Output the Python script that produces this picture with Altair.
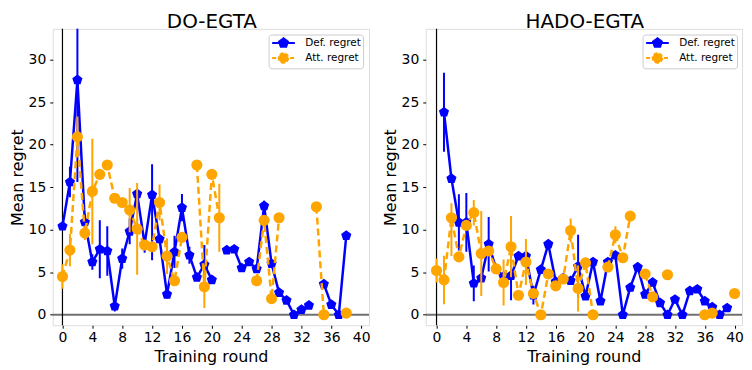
import altair as alt
import pandas as pd

BLUE = "#0000ff"
ORANGE = "#ffa500"
SERIES = ["Def. regret", "Att. regret"]
X_TICKS = list(range(0, 41, 4))
Y_TICKS = [0, 5, 10, 15, 20, 25, 30]

# ---------------- DO-EGTA (training rounds 0..38) ----------------
do_def = [10.4, 15.6, 27.6, 10.9, 6.2, 7.7, 7.5, 1.0, 6.6, 9.8,
          14.2, 8.3, 14.1, 8.9, 2.4, 7.4, 12.6, 7.0, 4.4, 5.9,
          4.1, None, 7.6, 7.7, 5.5, 6.2, 5.4, 12.8, 6.0, 2.6,
          1.7, 0.0, 0.6, 1.1, None, 3.6, 1.2, 0.0, 9.3]
do_def_err = [0, 1.8, 12, 1.0, 0.9, 3.4, 2.9, 0.6, 1.2, 1.5,
              0.5, 1.0, 3.6, 0.5, 0.5, 1.9, 1.6, 1.0, 0.3, 2.3,
              0.3, None, 0, 0, 0, 0, 0, 0.6, 0.3, 0,
              0, 0, 0, 0, None, 0.4, 0, 0, 0]
do_def_asym = {12: (7.7, 3.6)}
do_att = [4.5, 7.6, 20.9, 9.6, 14.5, 16.5, 17.6, 13.7, 13.2, 12.3,
          10.1, 8.2, 8.0, 13.2, 6.9, 4.0, 9.1, None, 17.6, 3.3,
          16.5, 11.4, None, None, None, None, 4.0, 11.1, 1.9, 11.4,
          None, None, None, None, 12.7, 0.0, None, None, 0.2]
do_att_err = [1.45, 1.9, 2.4, 0.8, 6.2, 0, 0, 0, 0, 2.6,
              5.4, 0.5, 0, 2.1, 2.1, 0, 0.5, None, 0, 2.5,
              0, 4.0, None, None, None, None, 0, 0, 0, 0,
              None, None, None, None, 0, 0, None, None, 0]
do_att_asym = {}

# ---------------- HADO-EGTA (training rounds 0..40) ----------------
hado_def = [None, 23.8, 16.0, 10.85, 10.85, 3.7, 4.3, 8.3, 5.4, 4.5,
            4.6, 6.9, 6.9, 2.3, 5.3, 8.3, 3.9, 4.3, 4.0, 5.7,
            2.2, 6.2, 1.6, 6.2, 7.0, 0.0, 3.2, 5.6, 2.4, 3.8,
            1.4, 0.0, 1.8, 0.0, 2.8, 3.0, 1.6, 0.9, 0.0, 0.8, None]
hado_def_err = [None, 4.65, 0.5, 3.3, 3.45, 2.1, 0.3, 3.2, 0.3, 0.3,
                2.9, 0.3, 0.3, 1.1, 0.3, 0.3, 0.3, 0.3, 0.3, 3.7,
                0.3, 0, 0, 0, 0, 0, 0, 0, 0, 0,
                0, 0, 0, 0, 0, 0, 0, 0, 0, 0, None]
hado_def_asym = {}
hado_att = [5.2, 4.1, 11.4, 6.8, 10.5, 12.0, 7.2, 7.5, 5.4, 3.8,
            8.0, 2.3, 6.2, 2.5, 0.0, 4.8, 3.4, 4.2, 9.9, 3.1,
            6.1, 0.0, None, 5.6, 9.4, 6.7, 11.6, None, 4.8, 2.1,
            None, 4.7, None, None, None, None, 0.0, 0.2, None, None, 2.5]
hado_att_err = [1.4, 2.85, 1.7, 0.5, 0.5, 1.5, 5.0, 0.5, 0.3, 2.7,
                3.6, 0.3, 2.7, 0.3, 0, 0.3, 0.3, 0.3, 1.4, 2.7,
                0.3, 0, None, 0.3, 1.0, 0.3, 0.3, None, 0.3, 0.3,
                None, 0, None, None, None, None, 0, 0, None, None, 0]
hado_att_asym = {2: (4.5, 1.7)}


def build(vals, errs, asym, series):
    rows, seg = [], 0
    for i, v in enumerate(vals):
        if v is None:
            seg += 1
            continue
        e = errs[i] or 0
        lo, hi = asym.get(i, (e, e))
        rows.append(dict(series=series, x=i, y=v, lo=v - lo, hi=v + hi,
                         seg=f"{series}-{seg}", err=(lo + hi) > 0.2))
    return rows


do_df = pd.DataFrame(build(do_def, do_def_err, do_def_asym, SERIES[0]) +
                     build(do_att, do_att_err, do_att_asym, SERIES[1]))
hado_df = pd.DataFrame(build(hado_def, hado_def_err, hado_def_asym, SERIES[0]) +
                       build(hado_att, hado_att_err, hado_att_asym, SERIES[1]))

PENTAGON = "M0,-1L0.951,-0.309L0.588,0.809L-0.588,0.809L-0.951,-0.309Z"
LEG_DEF = "M-1.9,0L1.9,0M0,-0.78L0.74,-0.24L0.46,0.63L-0.46,0.63L-0.74,-0.24Z"
LEG_ATT = "M-1.9,0L1.9,0M0.8,0A0.8,0.8 0 1,1 -0.8,0A0.8,0.8 0 1,1 0.8,0Z"
COLORS = {SERIES[0]: BLUE, SERIES[1]: ORANGE}
MARKERS = {SERIES[0]: (PENTAGON, 115), SERIES[1]: ("circle", 125)}
DASHES = {SERIES[0]: [1, 0], SERIES[1]: [7, 4]}
Y_DOMAIN = [-1.23, 33.6]
W, H = 318, 298


def panel(df, title, xdom, legx):
    xenc = alt.X("x:Q", scale=alt.Scale(domain=xdom, nice=False, zero=False),
                 axis=alt.Axis(values=X_TICKS, title="Training round", domain=False,
                               grid=False, tickSize=3, tickColor="black",
                               labelFontSize=14, titleFontSize=16, labelPadding=2,
                               titlePadding=4, labelColor="black", titleColor="black",
                               titleFontWeight="normal", labelOverlap=False,
                               labelFlush=False))
    yenc = alt.Y("y:Q", scale=alt.Scale(domain=Y_DOMAIN, nice=False, zero=False),
                 axis=alt.Axis(values=Y_TICKS, title="Mean regret", domain=False,
                               grid=False, tickColor="black", tickSize=3, labelFontSize=14,
                               titleFontSize=16, labelPadding=4, titlePadding=3,
                               labelColor="black", titleColor="black",
                               titleFontWeight="normal", labelOverlap=False))
    legend = alt.Legend(
        title=None, orient="none", legendX=legx, legendY=5.7,
        fillColor="white", strokeColor="#cccccc", cornerRadius=3, padding=1.5,
        labelFontSize=10.5, labelFont="DejaVu Sans", labelColor="black",
        symbolSize=144, symbolStrokeWidth=2, symbolOpacity=1, symbolOffset=6.5,
        labelOffset=14.8, rowPadding=-2.6)
    dom = alt.Scale(domain=SERIES, range=[BLUE, ORANGE])

    zero = alt.Chart(pd.DataFrame({"y": [0]})).mark_rule(
        color="#707070", strokeWidth=2).encode(y=yenc)
    spine = alt.Chart(pd.DataFrame({"x": [0]})).mark_rule(
        color="black", strokeWidth=1.2).encode(x=xenc)
    head = alt.Chart(pd.DataFrame({"t": [title]})).mark_text(
        fontSize=20, font="DejaVu Sans", color="black", align="center",
        baseline="alphabetic").encode(text="t:N", x=alt.value(W / 2 + 1), y=alt.value(-0.5))
    layers = [zero, spine, head]
    base = alt.Chart(df)
    for s in SERIES:
        sub = base.transform_filter(alt.datum.series == s)
        layers.append(sub.transform_filter(alt.datum.err).mark_rule(
            strokeWidth=2, clip=True, color=COLORS[s]).encode(x=xenc, y="lo:Q", y2="hi:Q"))
        layers.append(sub.mark_line(strokeWidth=2.5, clip=True, color=COLORS[s],
                                    strokeDash=DASHES[s]).encode(
            x=xenc, y=yenc, detail="seg:N"))
        layers.append(sub.mark_point(filled=True, opacity=1, clip=True, color=COLORS[s],
                                     shape=MARKERS[s][0], size=MARKERS[s][1]).encode(
            x=xenc, y=yenc))
    # legend-only layer (no rows drawn)
    leg = base.transform_filter("false").mark_point(filled=True, strokeWidth=2, opacity=1).encode(
        x=xenc, y=yenc,
        fill=alt.Fill("series:N", scale=dom, legend=legend),
        stroke=alt.Stroke("series:N", scale=dom, legend=legend),
        shape=alt.Shape("series:N", scale=alt.Scale(domain=SERIES, range=[LEG_DEF, LEG_ATT]),
                        legend=legend),
        strokeDash=alt.StrokeDash("series:N", scale=alt.Scale(domain=SERIES, range=[[1, 0], [4, 2]]),
                                  legend=legend),
    )
    layers.append(leg)
    return alt.layer(*layers).properties(width=W, height=H)


left = panel(do_df, "DO-EGTA", [-1.3, 41.05], 217)
right = panel(hado_df, "HADO-EGTA", [-1.45, 41.0], 218)

chart = alt.hconcat(left, right, spacing=10).resolve_scale(
    fill="independent", stroke="independent", shape="independent", strokeDash="independent"
).resolve_legend(fill="independent", stroke="independent", shape="independent",
                 strokeDash="independent").properties(
    padding={"left": 0, "top": 3, "right": 0, "bottom": 0}
).configure_view(stroke=None).configure(font="DejaVu Sans")

chart.save("out.html", embed_options={"renderer": "svg", "actions": False})
